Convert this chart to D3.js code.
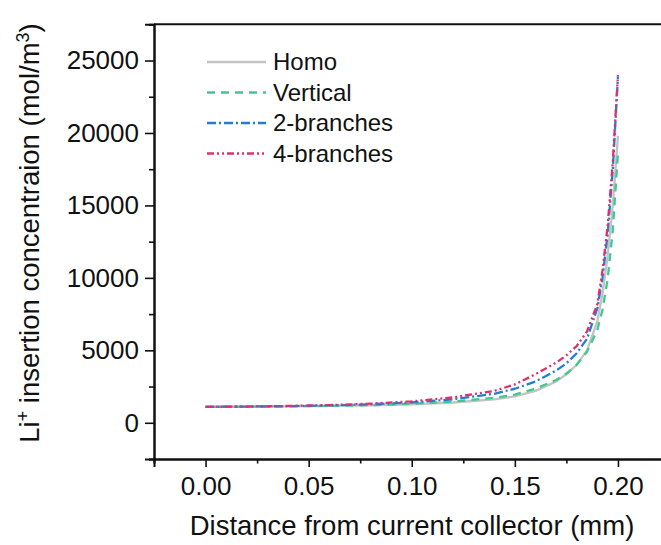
<!DOCTYPE html>
<html>
<head>
<meta charset="utf-8">
<script src="https://cdn.jsdelivr.net/npm/d3@7"></script>
<style>
  html, body { margin: 0; padding: 0; background: #fff; }
  svg { display: block; font-family: Arial, "Liberation Sans", sans-serif; }
</style>
</head>
<body>
<svg id="chart" width="661" height="545"></svg>
<script>
// Distance from the current collector (mm)
const distance = [0, 0.02, 0.04, 0.06, 0.08, 0.10, 0.12, 0.14, 0.15, 0.16, 0.17, 0.175, 0.18, 0.185, 0.19, 0.1925, 0.195, 0.1975, 0.20];

// Li+ insertion concentration (mol/m3) for each electrode structure
const homo       = [1100, 1110, 1130, 1160, 1200, 1270, 1400, 1620, 1820, 2200, 2850, 3350, 4000, 5000, 7000, 8900, 11500, 15000, 19800];
const vertical   = [1100, 1110, 1130, 1170, 1220, 1310, 1460, 1720, 1950, 2350, 2950, 3400, 4000, 4900, 6400, 7800, 9900, 13300, 18600];
const branches2  = [1100, 1120, 1150, 1200, 1280, 1400, 1620, 2000, 2350, 2850, 3600, 4100, 4800, 5800, 7900, 10000, 13000, 17500, 23900];
const branches4  = [1100, 1120, 1160, 1220, 1320, 1480, 1750, 2200, 2650, 3350, 4150, 4650, 5300, 6300, 8200, 10500, 13600, 18000, 24000];

const seriesNames = ["Homo", "Vertical", "2-branches", "4-branches"];
const seriesValues = [homo, vertical, branches2, branches4];
const seriesColors = ["#c3c3c3", "#3ec98e", "#1f7fd8", "#e0306c"];
const seriesDash = [null, "8,6", "9,3,2,3", "7,3,2,3,2,3"];

const xTicks = [0, 0.05, 0.10, 0.15, 0.20];
const yTicks = [0, 5000, 10000, 15000, 20000, 25000];

const svg = d3.select("#chart");
const plotLeft = 154, plotRight = 669.5, plotTop = 24.3, plotBottom = 459;

const x = d3.scaleLinear().domain([-0.025, 0.225]).range([plotLeft, plotRight]);
const y = d3.scaleLinear().domain([-2500, 27500]).range([plotBottom, plotTop]);

// frame (top and right edges)
svg.append("line").attr("x1", plotLeft).attr("x2", plotRight).attr("y1", plotTop).attr("y2", plotTop)
  .attr("stroke", "#111").attr("stroke-width", 2);
svg.append("line").attr("x1", plotRight).attr("x2", plotRight).attr("y1", plotTop).attr("y2", plotBottom)
  .attr("stroke", "#111").attr("stroke-width", 2);

// minor ticks
const xMinor = d3.range(-0.025, 0.2251, 0.025).filter(v => !xTicks.some(t => Math.abs(t - v) < 1e-9));
const yMinor = d3.range(-2500, 27501, 2500).filter(v => !yTicks.includes(v));

const xAxisMinor = svg.append("g").attr("transform", `translate(0,${plotBottom})`)
  .call(d3.axisBottom(x).tickValues(xMinor).tickSize(4.5).tickFormat(""));
const yAxisMinor = svg.append("g").attr("transform", `translate(${plotLeft},0)`)
  .call(d3.axisLeft(y).tickValues(yMinor).tickSize(5).tickFormat(""));

const xAxis = svg.append("g").attr("transform", `translate(0,${plotBottom})`)
  .call(d3.axisBottom(x).tickValues(xTicks).tickSize(8).tickPadding(10).tickFormat(d3.format(".2f")));
const yAxis = svg.append("g").attr("transform", `translate(${plotLeft},0)`)
  .call(d3.axisLeft(y).tickValues(yTicks).tickSize(9).tickPadding(6).tickFormat(d3.format("d")));

[xAxisMinor, yAxisMinor, xAxis, yAxis].forEach(g => {
  g.select(".domain").attr("stroke", "#111").attr("stroke-width", 2);
  g.selectAll(".tick line").attr("stroke", "#111").attr("stroke-width", 1.6);
  g.selectAll("text").attr("font-size", 26).attr("fill", "#111")
    .attr("font-family", "Arial, 'Liberation Sans', sans-serif");
});

// axis titles
svg.append("text").attr("x", 412).attr("y", 535)
  .attr("text-anchor", "middle").attr("font-size", 27.5).attr("fill", "#111")
  .text("Distance from current collector (mm)");

const yTitle = svg.append("text")
  .attr("transform", "translate(39,233) rotate(-90)")
  .attr("text-anchor", "middle").attr("font-size", 27.5).attr("fill", "#111");
yTitle.append("tspan").text("Li");
yTitle.append("tspan").attr("font-size", 18).attr("baseline-shift", "super").text("+");
yTitle.append("tspan").text(" insertion concentraion (mol/m");
yTitle.append("tspan").attr("font-size", 18).attr("baseline-shift", "super").text("3");
yTitle.append("tspan").text(")");

// curves
const line = d3.line().x(d => x(d[0])).y(d => y(d[1]));
seriesValues.forEach((vals, i) => {
  svg.append("path")
    .datum(distance.map((d, j) => [d, vals[j]]))
    .attr("d", line)
    .attr("fill", "none")
    .attr("stroke", seriesColors[i])
    .attr("stroke-width", 2.3)
    .attr("stroke-dasharray", seriesDash[i]);
});

// legend
const legend = svg.append("g");
seriesNames.forEach((name, i) => {
  const ly = 62 + i * 30.5;
  legend.append("line").attr("x1", 207).attr("x2", 266).attr("y1", ly).attr("y2", ly)
    .attr("stroke", seriesColors[i]).attr("stroke-width", 2.3)
    .attr("stroke-dasharray", seriesDash[i]);
  legend.append("text").attr("x", 273).attr("y", ly).attr("dy", "0.35em")
    .attr("font-size", 24).attr("fill", "#111").text(name);
});
</script>
</body>
</html>
